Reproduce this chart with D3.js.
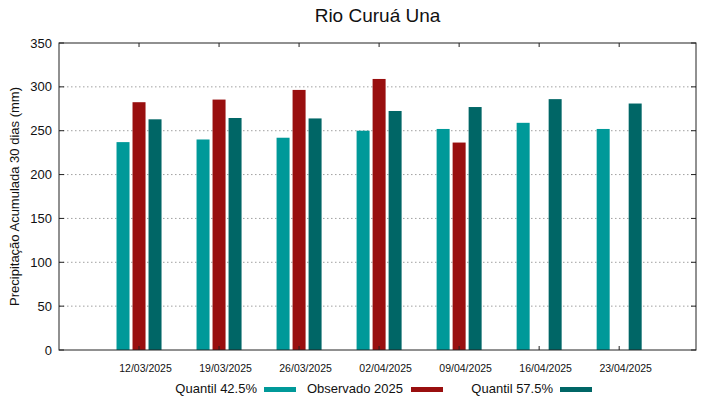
<!DOCTYPE html>
<html><head><meta charset="utf-8">
<script src="https://cdn.jsdelivr.net/npm/d3@7"></script>
<style>body{margin:0;background:#fff;}svg{display:block;font-family:"Liberation Sans",Arial,sans-serif;}</style>
</head><body>
<svg id="c" width="719" height="399"></svg>
<script>
const categories = ["12/03/2025","19/03/2025","26/03/2025","02/04/2025","09/04/2025","16/04/2025","23/04/2025"];
const quantil425 = [237, 240, 242, 250, 252, 259, 252];
const observado2025 = [282.5, 285.5, 296.5, 309, 236.5, null, null];
const quantil575 = [263, 264.5, 264, 272.5, 277, 286, 281];
const yTicks = [0, 50, 100, 150, 200, 250, 300, 350];
const seriesNames = ["Quantil 42.5%", "Observado 2025", "Quantil 57.5%"];
const colors = ["#009999", "#990f0f", "#006666"];

const svg = d3.select("#c");
const L = 59, R = 696, T = 43, B = 350;
const x = d3.scaleLinear().domain([-1, 6.96]).range([L, R]);
const y = d3.scaleLinear().domain([0, 350]).range([B, T]);

// grid
svg.append("g").selectAll("line").data(yTicks.filter(v => v > 0 && v < 350)).join("line")
  .attr("x1", L).attr("x2", R).attr("y1", d => y(d)).attr("y2", d => y(d))
  .attr("stroke", "#a0a0a0").attr("stroke-width", 1).attr("stroke-dasharray", "1.5,2.5");

// bars
const series = [quantil425, observado2025, quantil575];
const offs = [-0.2, 0, 0.2];
const bw = x(0.1625) - x(0);
series.forEach((s, k) => {
  svg.append("g").selectAll("rect").data(s.map((v, i) => ({v, i})).filter(d => d.v != null)).join("rect")
    .attr("x", d => x(d.i + offs[k]) - bw / 2).attr("width", bw)
    .attr("y", d => y(d.v)).attr("height", d => y(0) - y(d.v))
    .attr("fill", colors[k]);
});

// axes frame
svg.append("rect").attr("x", L).attr("y", T).attr("width", R - L).attr("height", B - T)
  .attr("fill", "none").attr("stroke", "#222").attr("stroke-width", 1);

// y ticks
const ya = svg.append("g");
yTicks.forEach(v => {
  ya.append("line").attr("x1", R).attr("x2", R - 5).attr("y1", y(v)).attr("y2", y(v)).attr("stroke", "#222");
  ya.append("line").attr("x1", L).attr("x2", L + 5).attr("y1", y(v)).attr("y2", y(v)).attr("stroke", "#222");
  ya.append("text").attr("x", L - 7).attr("y", y(v)).attr("dy", "0.35em")
    .attr("text-anchor", "end").attr("font-size", 13).attr("fill", "#111").text(v);
});

// x ticks
const xa = svg.append("g");
categories.forEach((c, i) => {
  xa.append("line").attr("x1", x(i)).attr("x2", x(i)).attr("y1", B).attr("y2", B - 4).attr("stroke", "#222");
  xa.append("line").attr("x1", x(i)).attr("x2", x(i)).attr("y1", T).attr("y2", T + 4).attr("stroke", "#222");
  xa.append("text").attr("x", x(i) + 6.5).attr("y", 371.5).attr("text-anchor", "middle")
    .attr("font-size", 10.5).attr("fill", "#111").text(c);
});

// title
svg.append("text").attr("x", (L + R) / 2).attr("y", 22).attr("text-anchor", "middle")
  .attr("font-size", 19).attr("fill", "#111").text("Rio Curuá Una");

// y label
svg.append("text").attr("transform", "translate(19," + ((T + B) / 2) + ") rotate(-90)")
  .attr("text-anchor", "middle").attr("font-size", 13).attr("fill", "#111")
  .text("Precipitação Acumulada 30 dias (mm)");

// legend
const legTextEnd = [257, 403, 553];
const legSw = [264, 411, 560];
seriesNames.forEach((n, k) => {
  svg.append("text").attr("x", legTextEnd[k]).attr("y", 393).attr("text-anchor", "end")
    .attr("font-size", 13).attr("fill", "#111").text(n);
  svg.append("rect").attr("x", legSw[k]).attr("y", 387).attr("width", 32).attr("height", 5).attr("fill", colors[k]);
});
</script>
</body></html>
